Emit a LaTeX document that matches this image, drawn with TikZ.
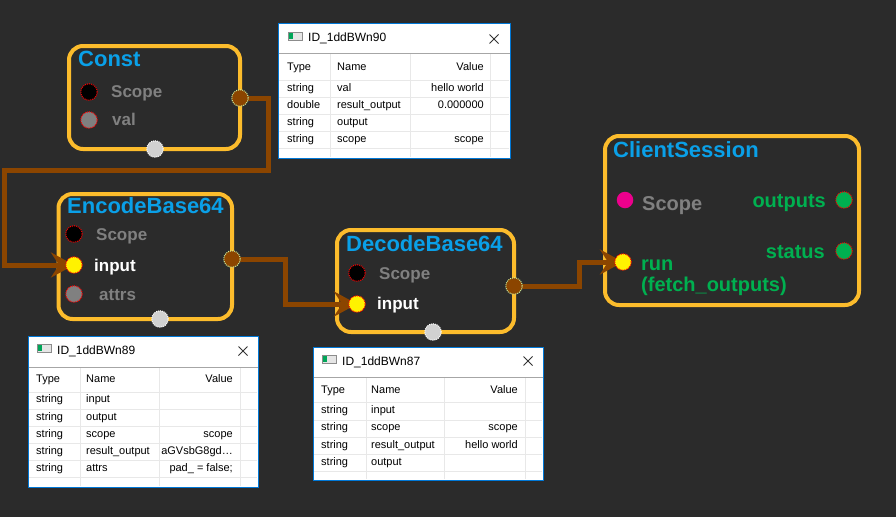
\documentclass[tikz,border=0pt]{standalone}
\usepackage{fontspec}
\setmainfont{Liberation Sans}
\usetikzlibrary{arrows.meta}

\definecolor{canvas}{RGB}{43,43,43}
\definecolor{boxline}{RGB}{252,188,44}
\definecolor{titleblue}{RGB}{10,160,232}
\definecolor{wire}{RGB}{139,69,0}
\definecolor{portgray}{RGB}{128,128,128}
\definecolor{outgreen}{RGB}{0,176,80}
\definecolor{palegreen}{RGB}{205,240,160}
\definecolor{winblue}{RGB}{0,120,215}

\pgfdeclarelayer{back}
\pgfdeclarelayer{wires}
\pgfsetlayers{back,wires,main}

\tikzset{
  blockbox/.style={draw=boxline, line width=4pt, rounded corners=14pt},
  blocktitle/.style={anchor=base west, inner sep=0pt, text=titleblue, font=\fontsize{22}{26}\selectfont\bfseries},
  portlabel/.style={anchor=base west, inner sep=0pt, text=portgray, font=\fontsize{17}{20}\selectfont\bfseries},
  biglabel/.style={portlabel, font=\fontsize{20}{23}\selectfont\bfseries},
  port/.style={circle, inner sep=0pt, minimum size=16.5pt, line width=1pt, densely dotted},
  inport/.style={port, fill=yellow, draw=red},
  outport/.style={port, fill=wire, draw=palegreen},
  botport/.style={port, fill=black!18, draw=white},
  wireline/.style={draw=wire, line width=5pt, -{Stealth[length=23pt,width=25pt,inset=8pt]}},
  winframe/.style={draw=winblue, fill=white, line width=1pt},
  winsep/.style={draw=black!35, line width=0.8pt},
  wingrid/.style={draw=black!9, line width=0.8pt},
  winicon/.style={draw=black!45, fill=black!10, line width=0.6pt},
  winclose/.style={draw=black!80, line width=0.8pt},
  wintitle/.style={anchor=west, inner sep=0pt, font=\fontsize{12}{14}\selectfont},
  wintext/.style={anchor=west, inner sep=0pt, text height=8pt, text depth=2.5pt, font=\fontsize{11}{13}\selectfont}
}

\begin{document}
\begin{tikzpicture}[x=1pt,y=-1pt]
\useasboundingbox (0,0) rectangle (896,517);

\begin{pgfonlayer}{back}
\fill[canvas] (0,0) rectangle (896,517);
\node[blockbox, minimum width=171pt, minimum height=103pt] (const) at (154.5,97.5) {};
\node[blockbox, minimum width=173.5pt, minimum height=125pt] (encode) at (145.25,256.5) {};
\node[blockbox, minimum width=177pt, minimum height=102pt] (decode) at (425.5,281) {};
\node[blockbox, minimum width=254pt, minimum height=169pt] (client) at (732,220.5) {};
\end{pgfonlayer}

% Const
\node[blocktitle] (constT) at (78,66) {Const};
\node[port, fill=black, draw=red] (cscope) at (89,92) {};
\node[portlabel] (cscopeL) at (111,97) {Scope};
\node[port, fill=portgray, draw=red] (cval) at (89,120) {};
\node[portlabel] (cvalL) at (112,125) {val};
\node[outport] (cout) at (240,98) {};
\node[botport] (cbot) at (155,149) {};

% EncodeBase64
\node[blocktitle] (encodeT) at (67,213) {EncodeBase64};
\node[port, fill=black, draw=red] (escope) at (74,234) {};
\node[portlabel] (escopeL) at (96,240) {Scope};
\node[inport] (ein) at (74,265) {};
\node[portlabel, text=white] (einL) at (94,271) {input};
\node[port, fill=portgray, draw=red] (eattrs) at (74,294) {};
\node[portlabel] (eattrsL) at (99,300) {attrs};
\node[outport] (eout) at (232,259) {};
\node[botport] (ebot) at (160,319) {};

% DecodeBase64
\node[blocktitle] (decodeT) at (346,251) {DecodeBase64};
\node[port, fill=black, draw=red] (dscope) at (357,273) {};
\node[portlabel] (dscopeL) at (379,279) {Scope};
\node[inport] (din) at (357,304) {};
\node[portlabel, text=white] (dinL) at (377,309) {input};
\node[outport] (dout) at (514,286) {};
\node[botport] (dbot) at (433,332) {};

% ClientSession
\node[blocktitle] (clientT) at (613,157) {ClientSession};
\node[port, fill=magenta, draw=none] (kscope) at (625,200) {};
\node[biglabel] (kscopeL) at (642,210) {Scope};
\node[port, fill=outgreen, draw=red] (kout) at (844,200) {};
\node[biglabel, anchor=base east, text=outgreen] (koutL) at (826,207) {outputs};
\node[port, fill=outgreen, draw=red] (kstat) at (844,251) {};
\node[biglabel, anchor=base east, text=outgreen] (kstatL) at (825,258) {status};
\node[inport] (krun) at (623,262) {};
\node[biglabel, text=outgreen] (krunL) at (641,270) {run};
\node[biglabel, text=outgreen] (kfetchL) at (641,291) {(fetch\_outputs)};

\begin{pgfonlayer}{wires}
\draw[wireline] (cout.center) -| (268,170) -| (4.5,265) -- (ein.center);
\draw[wireline] (eout.center) -| (285,304) -- (din.center);
\draw[wireline] (dout.center) -| (579,262) -- (krun.center);
\end{pgfonlayer}

% ID_1ddBWn90
\draw[winframe] (278,23) rectangle (510,158);
\draw[winsep] (278.5,53) -- (509.5,53);
\foreach \gx in {330,410,490} \draw[wingrid] (\gx,54) -- (\gx,157);
\foreach \gy in {80,97,114,131,148} \draw[wingrid] (279,\gy) -- (509,\gy);
\draw[winicon] (288,32) rectangle (302,40);
\fill[teal!70!green] (289,33) rectangle (293,39);
\node[wintitle] (w90) at (308,38) {ID\_1ddBWn90};
\draw[winclose] (489.5,34.5) -- (498.5,43.5) (489.5,43.5) -- (498.5,34.5);
\node[wintext] (w90type) at (287,68) {Type};
\node[wintext] (w90name) at (337,68) {Name};
\node[wintext, anchor=east] (w90value) at (484,68) {Value};
\foreach \ry/\tp/\nm/\vl [count=\i] in {89/string/val/hello world, 106/double/result\_output/0.000000, 123/string/output/{}, 140/string/scope/scope} {
  \node[wintext] (w90t\i) at (287,\ry) {\tp};
  \node[wintext] (w90n\i) at (337,\ry) {\nm};
  \node[wintext, anchor=east] (w90v\i) at (484,\ry) {\vl};
}

% ID_1ddBWn89
\draw[winframe] (28,336) rectangle (258,487);
\draw[winsep] (28.5,367) -- (257.5,367);
\foreach \gx in {80,159,240} \draw[wingrid] (\gx,368) -- (\gx,486);
\foreach \gy in {392,409,426,443,460,477} \draw[wingrid] (29,\gy) -- (257,\gy);
\draw[winicon] (37,344) rectangle (51,352);
\fill[teal!70!green] (38,345) rectangle (42,351);
\node[wintitle] (w89) at (57,351) {ID\_1ddBWn89};
\draw[winclose] (238.5,346.5) -- (247.5,355.5) (238.5,355.5) -- (247.5,346.5);
\node[wintext] (w89type) at (36,380) {Type};
\node[wintext] (w89name) at (86,380) {Name};
\node[wintext, anchor=east] (w89value) at (233,380) {Value};
\foreach \ry/\tp/\nm/\vl [count=\i] in {400/string/input/{}, 417.5/string/output/{}, 435/string/scope/scope, 452/string/result\_output/aGVsbG8gd…, 469/string/attrs/pad\_ = false;} {
  \node[wintext] (w89t\i) at (36,\ry) {\tp};
  \node[wintext] (w89n\i) at (86,\ry) {\nm};
  \node[wintext, anchor=east] (w89v\i) at (233,\ry) {\vl};
}

% ID_1ddBWn87
\draw[winframe] (313,347) rectangle (543,480);
\draw[winsep] (313.5,377) -- (542.5,377);
\foreach \gx in {366,444,525} \draw[wingrid] (\gx,378) -- (\gx,479);
\foreach \gy in {402,420,437,454,471} \draw[wingrid] (314,\gy) -- (542,\gy);
\draw[winicon] (322,355) rectangle (336,363);
\fill[teal!70!green] (323,356) rectangle (327,362);
\node[wintitle] (w87) at (342,362) {ID\_1ddBWn87};
\draw[winclose] (523.5,356.5) -- (532.5,365.5) (523.5,365.5) -- (532.5,356.5);
\node[wintext] (w87type) at (321,391) {Type};
\node[wintext] (w87name) at (371,391) {Name};
\node[wintext, anchor=east] (w87value) at (518,391) {Value};
\foreach \ry/\tp/\nm/\vl [count=\i] in {411/string/input/{}, 428/string/scope/scope, 446/string/result\_output/hello world, 463/string/output/{}} {
  \node[wintext] (w87t\i) at (321,\ry) {\tp};
  \node[wintext] (w87n\i) at (371,\ry) {\nm};
  \node[wintext, anchor=east] (w87v\i) at (518,\ry) {\vl};
}
\end{tikzpicture}
\end{document}
